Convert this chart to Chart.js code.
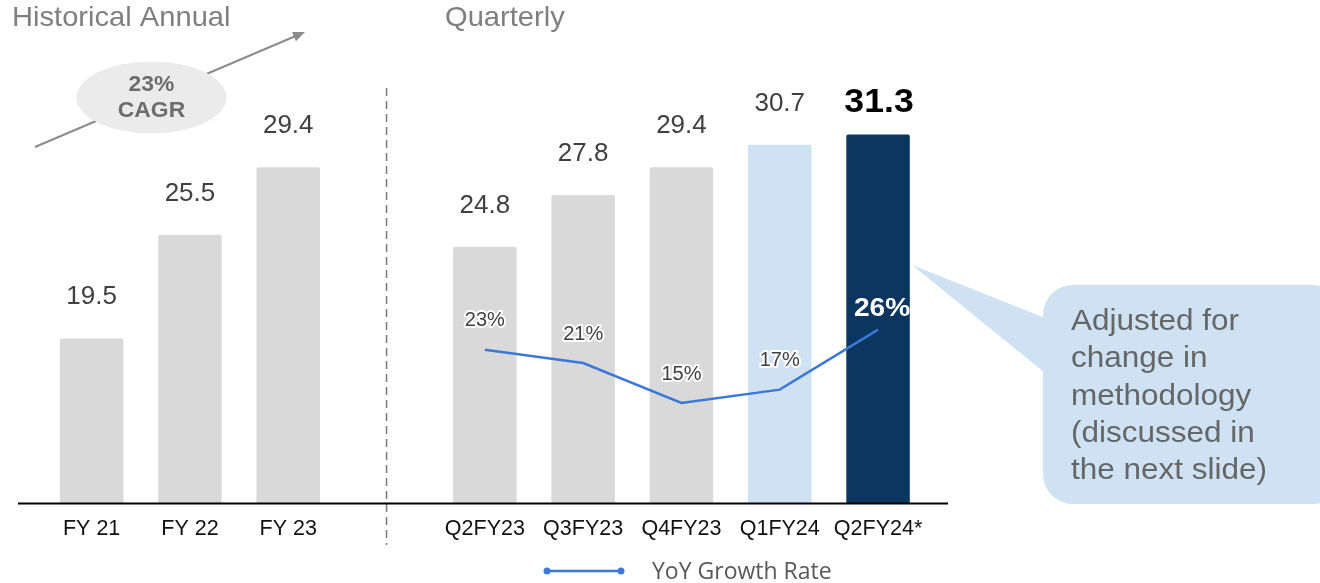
<!DOCTYPE html>
<html>
<head>
<meta charset="utf-8">
<script src="https://cdn.jsdelivr.net/npm/chart.js@4.4.0/dist/chart.umd.min.js"></script>
<style>
html, body { margin: 0; padding: 0; background: #fff; }
#wrap { width: 1320px; height: 583px; position: relative; }
</style>
</head>
<body>
<div id="wrap"><canvas id="chart"></canvas></div>
<script>
"use strict"

// datos
var categorias = ["FY 21", "FY 22", "FY 23", "", "Q2FY23", "Q3FY23", "Q4FY23", "Q1FY24", "Q2FY24*"];
var ingresos = [19.5, 25.5, 29.4, null, 24.8, 27.8, 29.4, 30.7, 31.3];
var crecimiento = [null, null, null, null, 23, 21, 15, 17, 26];
var etiquetaLinea = "YoY Growth Rate";
var titulos = ["Historical Annual", "Quarterly"];
var cagr = ["23%", "CAGR"];
var nota = ["Adjusted for", "change in", "methodology", "(discussed in", "the next slide)"];

var fuente = "'Liberation Sans', Arial, sans-serif";

var colorBarra = function (ctx) {
    var i = ctx.dataIndex;
    if (i === categorias.length - 1) return "#0b3660";
    if (i === categorias.length - 2) return "#cfe2f3";
    return "#d9d9d9";
};

// texto algo ensanchado, como en la lamina original
var texto = function (ctx, t, x, y, esc) {
    ctx.save();
    ctx.translate(x, y);
    ctx.scale(esc || 1.04, 1);
    ctx.fillText(t, 0, 0);
    ctx.restore();
};

var dibujos = {
    id: "dibujos",
    beforeDatasetsDraw: function (chart) {
        var ctx = chart.ctx;
        var x = chart.scales.x;
        ctx.save();

        // titulos
        ctx.fillStyle = "#7f7f7f";
        ctx.font = "28px " + fuente;
        ctx.textBaseline = "middle";
        ctx.textAlign = "left";
        texto(ctx, titulos[0], 12, 18);
        texto(ctx, titulos[1], 445, 18);

        // linea punteada entre anual y trimestral
        var xs = x.getPixelForValue(3);
        ctx.strokeStyle = "#7a7a7a";
        ctx.lineWidth = 1.5;
        ctx.setLineDash([8, 5]);
        ctx.beginPath();
        ctx.moveTo(xs, 88);
        ctx.lineTo(xs, 545);
        ctx.stroke();
        ctx.setLineDash([]);

        // flecha CAGR
        ctx.strokeStyle = "#8c8c8c";
        ctx.fillStyle = "#8c8c8c";
        ctx.lineWidth = 2;
        ctx.beginPath();
        ctx.moveTo(35, 147);
        ctx.lineTo(298, 35);
        ctx.stroke();
        var ang = Math.atan2(32 - 147, 305 - 35);
        ctx.beginPath();
        ctx.moveTo(305, 32);
        ctx.lineTo(305 - 12 * Math.cos(ang) + 5 * Math.sin(ang), 32 - 12 * Math.sin(ang) - 5 * Math.cos(ang));
        ctx.lineTo(305 - 12 * Math.cos(ang) - 5 * Math.sin(ang), 32 - 12 * Math.sin(ang) + 5 * Math.cos(ang));
        ctx.closePath();
        ctx.fill();

        ctx.fillStyle = "#ebebeb";
        ctx.beginPath();
        ctx.ellipse(151.5, 97.5, 75, 36, 0, 0, Math.PI * 2);
        ctx.fill();
        ctx.fillStyle = "#6d6d6d";
        ctx.font = "bold 22px " + fuente;
        ctx.textAlign = "center";
        texto(ctx, cagr[0], 151.5, 85);
        texto(ctx, cagr[1], 151.5, 111);

        // globo de nota
        ctx.fillStyle = "#cfe2f3";
        ctx.beginPath();
        ctx.moveTo(912, 265);
        ctx.lineTo(1050, 320);
        ctx.lineTo(1050, 377);
        ctx.closePath();
        ctx.fill();
        ctx.beginPath();
        ctx.roundRect(1043, 285, 300, 219, 30);
        ctx.fill();
        ctx.fillStyle = "#666666";
        ctx.font = "30px " + fuente;
        ctx.textAlign = "left";
        nota.forEach(function (t, i) {
            texto(ctx, t, 1071, 322 + i * 37.2, 1.05);
        });

        ctx.restore();
    },
    afterDatasetsDraw: function (chart) {
        var ctx = chart.ctx;
        var area = chart.chartArea;
        ctx.save();

        // eje x
        ctx.strokeStyle = "#000";
        ctx.lineWidth = 2;
        ctx.beginPath();
        ctx.moveTo(18, area.bottom + 0.5);
        ctx.lineTo(948, area.bottom + 0.5);
        ctx.stroke();

        ctx.textAlign = "center";
        ctx.textBaseline = "middle";

        // etiquetas de barras
        var barras = chart.getDatasetMeta(0).data;
        barras.forEach(function (el, i) {
            if (ingresos[i] === null) return;
            var txt = ingresos[i].toFixed(1);
            if (i === categorias.length - 1) {
                ctx.fillStyle = "#000";
                ctx.font = "bold 33px " + fuente;
                texto(ctx, txt, el.x + 1, el.y - 31, 1.08);
            } else {
                ctx.fillStyle = "#404040";
                ctx.font = "25px " + fuente;
                texto(ctx, txt, el.x, el.y - 41);
            }
        });

        // etiquetas de la linea
        var puntos = chart.getDatasetMeta(1).data;
        puntos.forEach(function (el, i) {
            if (crecimiento[i] === null) return;
            var txt = crecimiento[i] + "%";
            if (i === categorias.length - 1) {
                ctx.fillStyle = "#fff";
                ctx.font = "bold 26px " + fuente;
                texto(ctx, txt, el.x + 4, el.y - 21, 1.08);
            } else {
                ctx.font = "20px " + fuente;
                ctx.strokeStyle = "#fff";
                ctx.lineWidth = 4;
                ctx.lineJoin = "round";
                ctx.strokeText(txt, el.x, el.y - 29);
                ctx.fillStyle = "#404040";
                ctx.fillText(txt, el.x, el.y - 29);
            }
        });

        // leyenda
        var ds = chart.data.datasets[1];
        ctx.strokeStyle = ds.borderColor;
        ctx.fillStyle = ds.borderColor;
        ctx.lineWidth = 2.5;
        ctx.beginPath();
        ctx.moveTo(547, 571);
        ctx.lineTo(621, 571);
        ctx.stroke();
        [547, 621].forEach(function (px) {
            ctx.beginPath();
            ctx.arc(px, 571, 3.5, 0, Math.PI * 2);
            ctx.fill();
        });
        ctx.fillStyle = "#595959";
        ctx.font = "23px 'Open Sans', sans-serif";
        ctx.textAlign = "left";
        ctx.fillText(ds.label, 652, 572);

        ctx.restore();
    }
};

new Chart(document.getElementById("chart"), {
    type: "bar",
    data: {
        labels: categorias,
        datasets: [
            {
                type: "bar",
                label: "Revenue",
                data: ingresos,
                backgroundColor: colorBarra,
                barPercentage: 0.646,
                categoryPercentage: 1,
                borderRadius: 2,
                borderSkipped: "bottom",
                yAxisID: "y",
                order: 1
            },
            {
                type: "line",
                label: etiquetaLinea,
                data: crecimiento,
                borderColor: "#3c78d8",
                borderWidth: 2.5,
                pointRadius: 0,
                tension: 0,
                yAxisID: "y1",
                order: 0
            }
        ]
    },
    options: {
        responsive: true,
        maintainAspectRatio: false,
        animation: false,
        layout: { padding: { left: 42.5, right: 392.8, top: 79, bottom: 0 } },
        plugins: {
            legend: { display: false },
            tooltip: { enabled: false }
        },
        scales: {
            x: {
                grid: { display: false, drawTicks: false },
                border: { display: false },
                ticks: {
                    color: "#111",
                    font: { family: fuente, size: 21.5 },
                    padding: 13,
                    maxRotation: 0,
                    autoSkip: false
                },
                afterFit: function (s) { s.height = 80; }
            },
            y: { display: false, min: 10, max: 34.5 },
            y1: { display: false, min: 0, max: 63.6 }
        }
    },
    plugins: [dibujos]
});
</script>
</body>
</html>
